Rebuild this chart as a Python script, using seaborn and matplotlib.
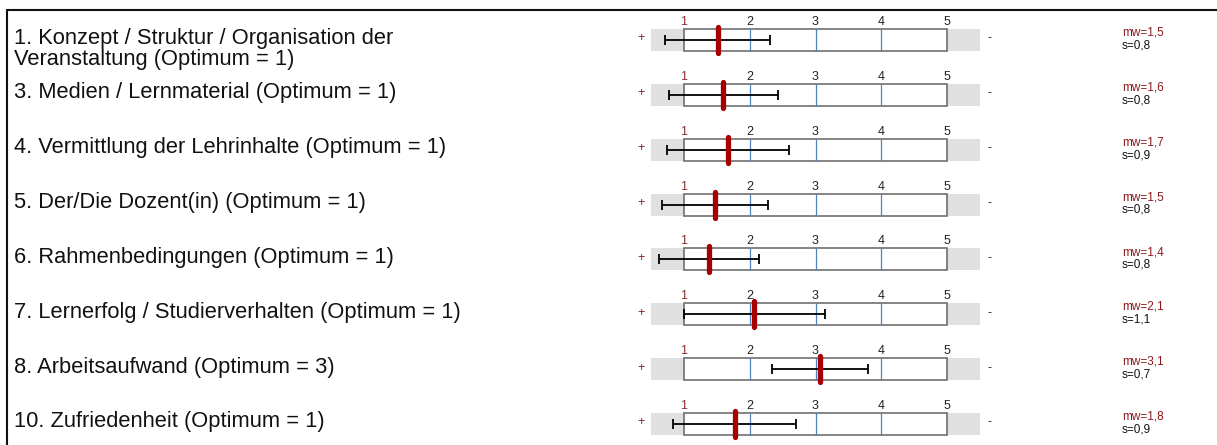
import matplotlib
matplotlib.use("Agg")
import matplotlib.pyplot as plt
import seaborn as sns
import pandas as pd
from matplotlib.patches import Rectangle
from matplotlib.lines import Line2D

# ---------------- data ----------------
labels = [
    "1. Konzept / Struktur / Organisation der\nVeranstaltung (Optimum = 1)",
    "3. Medien / Lernmaterial (Optimum = 1)",
    "4. Vermittlung der Lehrinhalte (Optimum = 1)",
    "5. Der/Die Dozent(in) (Optimum = 1)",
    "6. Rahmenbedingungen (Optimum = 1)",
    "7. Lernerfolg / Studierverhalten (Optimum = 1)",
    "8. Arbeitsaufwand (Optimum = 3)",
    "10. Zufriedenheit (Optimum = 1)",
]
means = [1.51, 1.60, 1.67, 1.47, 1.38, 2.07, 3.07, 1.77]
sds = [0.80, 0.83, 0.93, 0.81, 0.76, 1.07, 0.73, 0.93]
scale_ticks = [1, 2, 3, 4, 5]
pole_left = "+"
pole_right = "-"

# ---------------- layout ----------------
W, H, DPI = 1217, 445, 100
DARKRED = "#8B1A1A"
TICKRED = "#8B3030"
MEANRED = "#A80000"

sns.set_theme(style="white")
plt.rcParams["font.family"] = ["Liberation Sans", "DejaVu Sans"]

fig = plt.figure(figsize=(W / DPI, H / DPI), dpi=DPI)
fig.patch.set_facecolor("white")
ax = fig.add_axes([0, 0, 1, 1])
ax.set_axis_off()

ppu = (947 - 684) / 4.0          # pixels per scale unit
x1px = 684                        # pixel of scale value 1
row_px = (424 - 40) / 7.0         # pixels per row
top_px = 40


def xd(px):
    return 1 + (px - x1px) / ppu


def dy(px):
    return px / row_px


n = len(labels)
rows = list(range(n))
hh = dy(11)  # half box height

for i in rows:
    ax.add_patch(Rectangle((0.5, i - hh), 5.0, 2 * hh, facecolor="#E0E0E0",
                           edgecolor="none", zorder=1))
    ax.add_patch(Rectangle((1, i - hh), 4.0, 2 * hh, facecolor="white",
                           edgecolor="#6F6F6F", linewidth=1.2, zorder=2))
    ax.vlines(scale_ticks[1:-1], i - hh, i + hh, colors="#4F81BD",
              linewidth=0.9, zorder=3)
    for k in scale_ticks:
        ax.text(k, i - dy(15), str(k), ha="center", va="baseline",
                fontsize=9, color=TICKRED if k == scale_ticks[0] else "#222222")
    ax.text(xd(641), i - dy(1.5), pole_left, ha="center", va="center",
            fontsize=9, color=DARKRED)
    ax.text(xd(989), i - dy(1.5), pole_right, ha="center", va="center",
            fontsize=9, color="#222222")
    off = 25 if "\n" in labels[i] else 3.5
    ax.text(xd(14), i + dy(off), labels[i], ha="left", va="baseline",
            fontsize=15.75, color="#111111", linespacing=0.97)
    ax.text(xd(1122), i - dy(4.3), "mw=" + f"{means[i]:.1f}".replace(".", ","),
            ha="left", va="baseline", fontsize=8.5, color=DARKRED)
    ax.text(xd(1122), i + dy(8.3), "s=" + f"{sds[i]:.1f}".replace(".", ","),
            ha="left", va="baseline", fontsize=8.5, color="#111111")

ax.errorbar(means, rows, xerr=sds, fmt="none", ecolor="black",
            elinewidth=1.3, capsize=3.3, capthick=1.3, zorder=4)

df = pd.DataFrame({"mean": means, "row": rows})
sns.scatterplot(data=df, x="mean", y="row", marker="|", s=360, color=MEANRED,
                linewidth=3.8, ax=ax, zorder=5, legend=False)
ax.collections[-1].set_capstyle("round")

ax.set_xlim(xd(0), xd(W))
ax.set_ylim(n - 1 + dy(H - 424), -dy(top_px))
ax.set_axis_off()

# frame lines (top and left)
fig.add_artist(Line2D([7 / W, 1], [1 - 10 / H, 1 - 10 / H],
                      transform=fig.transFigure, color="#111111", linewidth=1.5))
fig.add_artist(Line2D([7 / W, 7 / W], [0, 1 - 10 / H],
                      transform=fig.transFigure, color="#111111", linewidth=1.5))

fig.savefig("out.png", dpi=DPI, facecolor="white")
